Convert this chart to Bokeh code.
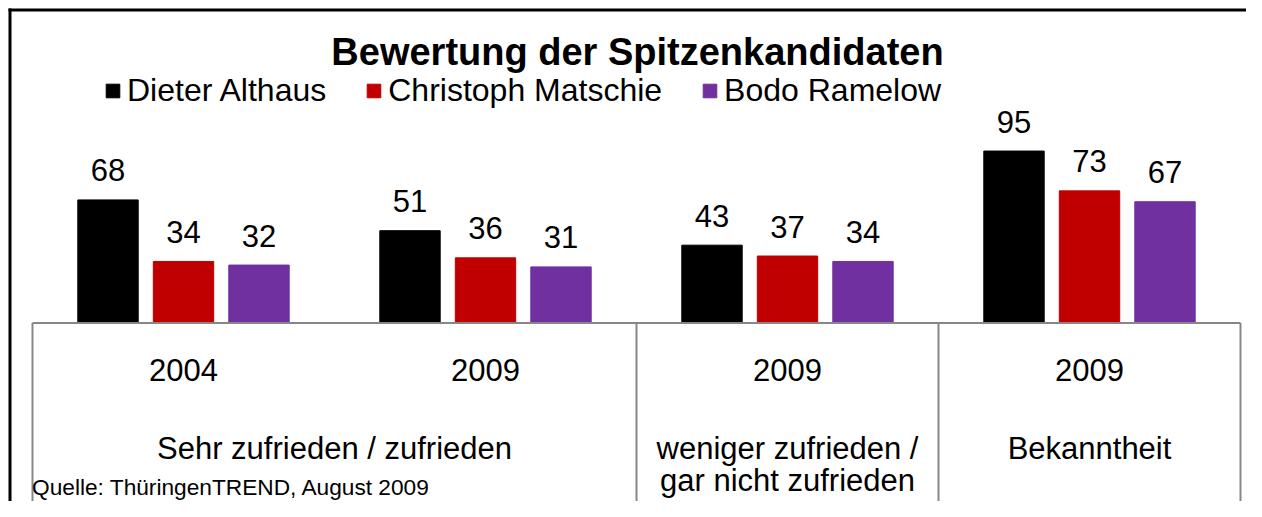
from bokeh.plotting import figure
from bokeh.models import (Range1d, ColumnDataSource, LabelSet, Label, Legend,
                          LegendItem)
from bokeh.transform import dodge
from bokeh.core.properties import value
from bokeh.embed import file_html
from bokeh.resources import INLINE

# ---------------- data ----------------
chart_title = "Bewertung der Spitzenkandidaten"
source_note = "Quelle: ThüringenTREND, August 2009"
series_names = ["Dieter Althaus", "Christoph Matschie", "Bodo Ramelow"]
series_colors = ["#000000", "#C00000", "#7030A0"]
years = ["2004", "2009", "2009", "2009"]
groups = ["Sehr zufrieden / zufrieden", "weniger zufrieden /\ngar nicht zufrieden", "Bekanntheit"]
group_sizes = [2, 1, 1]
althaus = [68, 51, 43, 95]
matschie = [34, 36, 37, 73]
ramelow = [32, 31, 34, 67]

# ---------------- layout constants ----------------
FONT = "Liberation Sans"
W, H = 1246, 501
PX_CAT = 302.0          # pixels per category
PX_UNIT = 1.81          # pixels per value unit
LEFT_PX = 32            # left edge of category area
BASE_Y = 322.5          # baseline (pixels from top)
RIGHT_PX = W - LEFT_PX - PX_CAT * len(years)

n = len(years)
x_range = Range1d(-LEFT_PX / PX_CAT, n + RIGHT_PX / PX_CAT)
y_range = Range1d(-(H - BASE_Y) / PX_UNIT, BASE_Y / PX_UNIT)


def dx(px):
    return (px - LEFT_PX) / PX_CAT


def dy(py):
    return (BASE_Y - py) / PX_UNIT


p = figure(width=W, height=H, output_backend="svg", toolbar_location=None,
           x_range=x_range, y_range=y_range, x_axis_location=None,
           y_axis_location=None, min_border=0, title=None,
           outline_line_color=None, background_fill_color="white",
           border_fill_color="white")
p.grid.visible = False

centers = [i + 0.5 for i in range(n)]
offsets = [-0.25, 0.0, 0.25]
all_values = [althaus, matschie, ramelow]

renderers = []
for vals, off, col in zip(all_values, offsets, series_colors):
    src = ColumnDataSource(dict(x=centers, top=vals, lab=[str(v) for v in vals]))
    r = p.vbar(x=dodge("x", off, range=p.x_range), top="top", bottom=0,
               width=0.2, source=src, fill_color=col, line_color=col)
    renderers.append(r)
    p.add_layout(LabelSet(x=dodge("x", off, range=p.x_range), y="top", text="lab",
                          source=src, y_offset=18.5, text_align="center",
                          text_baseline="alphabetic", text_font=value(FONT),
                          text_font_size=value("31px"), text_color="black"))

# category axis box
bounds = [0]
for s in group_sizes:
    bounds.append(bounds[-1] + s)
p.segment(x0=[0], y0=[0], x1=[n], y1=[0], line_color="#878787", line_width=2)
p.segment(x0=bounds, y0=[0] * len(bounds), x1=bounds,
          y1=[y_range.start - 10] * len(bounds), line_color="#878787", line_width=2)

# year labels
year_src = ColumnDataSource(dict(x=centers, y=[0] * n, text=years))
p.add_layout(LabelSet(x="x", y="y", text="text", source=year_src, y_offset=-57.5,
                      text_align="center", text_baseline="alphabetic",
                      text_font=value(FONT), text_font_size=value("31px"),
                      text_color="black"))

# group labels (line by line)
gcenters = [(bounds[i] + bounds[i + 1]) / 2 for i in range(len(groups))]
split = [g.split("\n") for g in groups]
max_lines = max(len(s) for s in split)
for j in range(max_lines):
    xs, ts = [], []
    for c, s in zip(gcenters, split):
        if j < len(s):
            xs.append(c)
            ts.append(s[j])
    gsrc = ColumnDataSource(dict(x=xs, y=[0] * len(xs), text=ts))
    p.add_layout(LabelSet(x="x", y="y", text="text", source=gsrc,
                          y_offset=-135.5 - 32.5 * j, text_align="center",
                          text_baseline="alphabetic", text_font=value(FONT),
                          text_font_size=value("31px"), text_color="black"))

# title (vertical middle of the text box)
p.add_layout(Label(x=637, y=H - 51.0, x_units="screen", y_units="screen",
                   text=chart_title, text_align="center", text_baseline="middle",
                   text_font=FONT, text_font_size="38px", text_font_style="bold",
                   text_color="black"))

# source note
p.add_layout(Label(x=31.5, y=H - 486.5, x_units="screen", y_units="screen",
                   text=source_note, text_align="left", text_baseline="middle",
                   text_font=FONT, text_font_size="22.7px", text_color="black"))

# legend
legend = Legend(items=[LegendItem(label=nm, renderers=[r])
                       for nm, r in zip(series_names, renderers)],
                orientation="horizontal", location=(104, H - 108.5),
                glyph_width=17, glyph_height=17, label_standoff=6, spacing=39,
                padding=0, margin=0, border_line_color=None,
                background_fill_alpha=0, label_text_font=FONT,
                label_text_color="black",
                label_text_font_size="32px", label_height=17)
p.add_layout(legend)

# outer frame (top and left edges of the chart border)
p.segment(x0=[dx(8), dx(9.5)], y0=[dy(9.5), dy(8)],
          x1=[dx(1400), dx(9.5)], y1=[dy(9.5), dy(700)],
          line_color="black", line_width=3)

open("out.html", "w").write(file_html(p, INLINE))
